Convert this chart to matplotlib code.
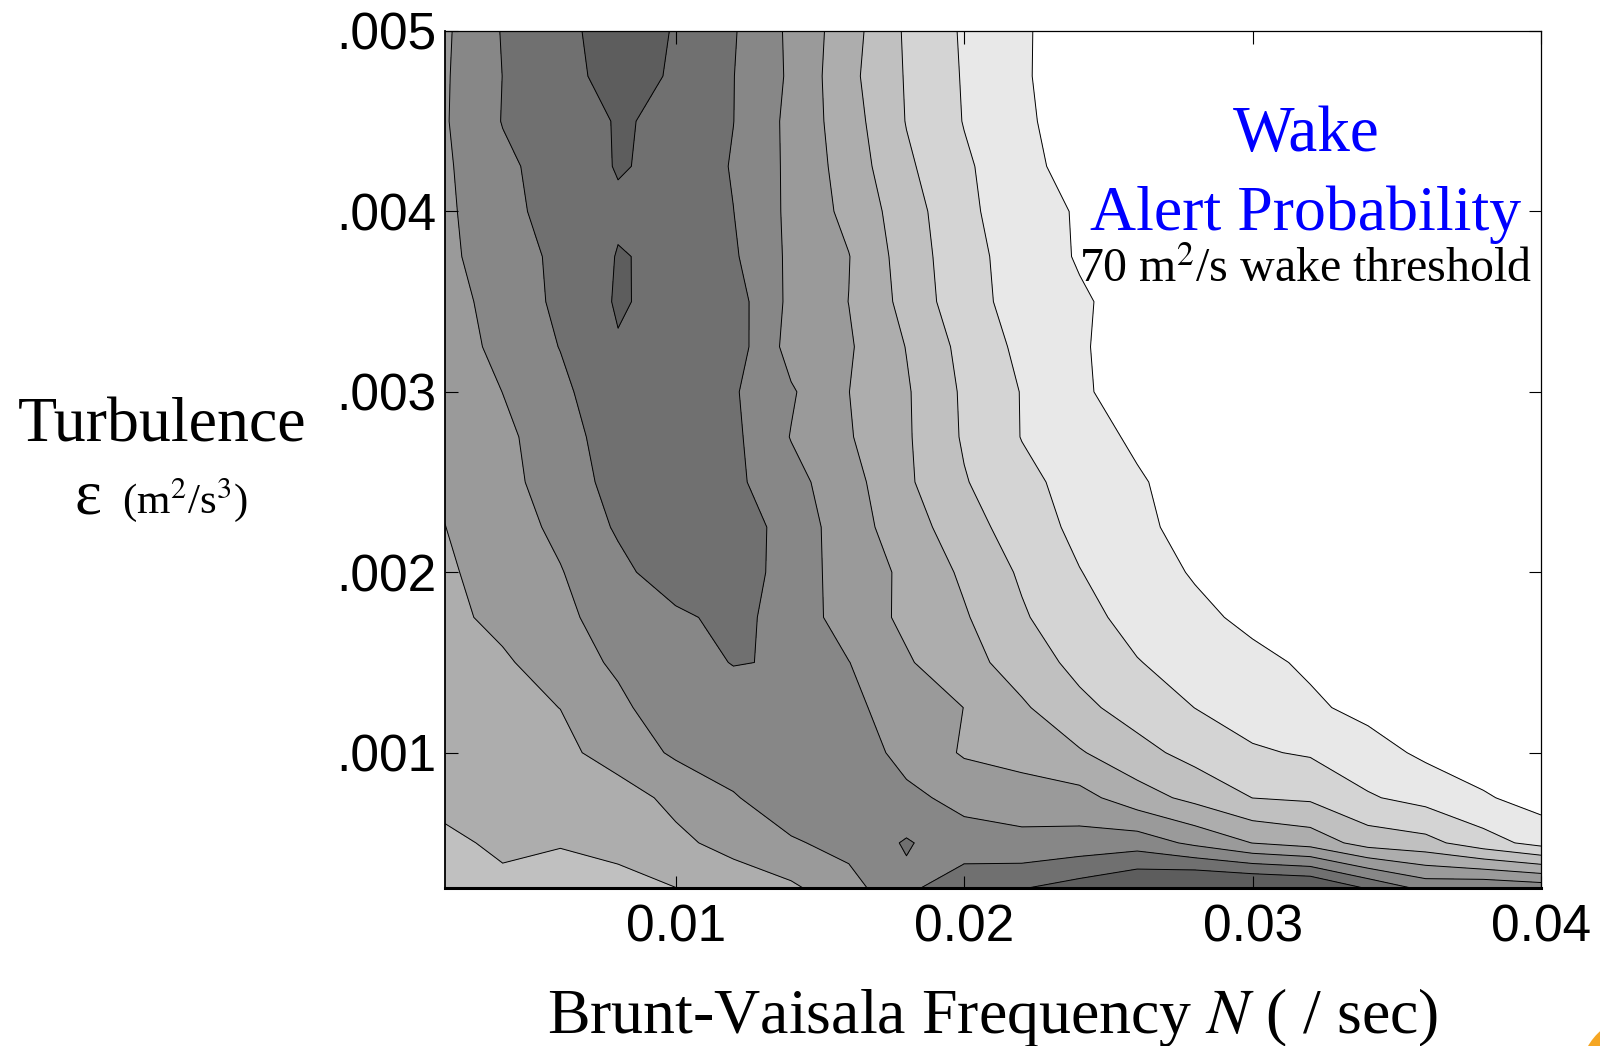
import matplotlib

matplotlib.use("Agg")
import matplotlib.pyplot as plt
import numpy as np
from matplotlib.patches import Circle
from matplotlib.transforms import IdentityTransform

plt.rcParams["font.family"] = ["Liberation Serif", "DejaVu Serif"]
plt.rcParams["mathtext.fontset"] = "stix"

# Brunt-Vaisala frequency N (/sec), grid columns
N_FREQ = [0.002, 0.004, 0.006, 0.008, 0.010, 0.012, 0.014, 0.016, 0.018, 0.020,
          0.022, 0.024, 0.026, 0.028, 0.030, 0.032, 0.034, 0.036, 0.038, 0.040]
# turbulence epsilon (m^2/s^3), grid rows, bottom to top
EPSILON = [0.00025, 0.0005, 0.00075, 0.001, 0.00125, 0.0015, 0.00175, 0.002,
           0.00225, 0.0025, 0.00275, 0.003, 0.00325, 0.0035, 0.00375, 0.004,
           0.00425, 0.0045, 0.00475, 0.005]

# alert probability, in contour-band units (one unit per shade), row per EPSILON
ALERT = [
    [3.70, 3.84, 3.27, 3.55, 3.99, 4.41, 4.83, 5.65, 6.75, 7.75, 7.95, 8.43, 9.05, 9.48, 9.40, 9.20, 7.90, 6.70, 6.85, 6.60],
    [3.85, 4.13, 4.10, 4.40, 4.78, 5.33, 5.89, 6.30, 7.10, 6.35, 6.22, 6.39, 6.55, 5.78, 4.98, 4.60, 3.57, 3.32, 2.42, 1.65],
    [4.20, 4.30, 4.40, 4.58, 5.25, 5.92, 6.59, 6.40, 6.20, 5.75, 5.60, 5.35, 4.43, 3.73, 2.99, 2.85, 2.10, 1.67, 1.11, 0.60],
    [4.30, 4.50, 4.75, 5.41, 6.15, 6.50, 6.50, 6.52, 5.71, 4.89, 4.52, 4.09, 3.33, 2.66, 2.11, 1.90, 1.40, 0.81, 0.45, 0.20],
    [4.40, 4.72, 5.01, 5.80, 6.57, 6.54, 6.50, 6.20, 5.60, 4.99, 4.14, 3.25, 2.58, 1.99, 1.58, 1.16, 0.73, 0.35, 0.10, 0.00],
    [4.50, 4.85, 5.55, 6.15, 6.59, 7.04, 6.93, 6.02, 5.10, 4.37, 3.54, 2.71, 2.04, 1.63, 1.25, 0.85, 0.40, 0.10, 0.00, 0.00],
    [4.72, 5.28, 5.83, 6.33, 6.81, 7.29, 6.59, 5.54, 4.81, 4.10, 3.12, 2.29, 1.70, 1.24, 0.77, 0.30, 0.00, 0.00, 0.00, 0.00],
    [4.86, 5.41, 5.95, 6.74, 7.55, 7.70, 6.45, 5.62, 4.79, 3.83, 2.86, 2.03, 1.46, 0.91, 0.35, 0.00, 0.00, 0.00, 0.00, 0.00],
    [4.99, 5.56, 6.21, 7.12, 7.30, 7.55, 6.60, 5.45, 4.46, 3.44, 2.49, 1.77, 1.22, 0.67, 0.20, 0.00, 0.00, 0.00, 0.00, 0.00],
    [5.12, 5.68, 6.50, 7.33, 7.40, 7.21, 6.33, 5.37, 4.16, 3.07, 2.26, 1.64, 1.11, 0.56, 0.10, 0.00, 0.00, 0.00, 0.00, 0.00],
    [5.15, 5.77, 6.59, 7.50, 7.50, 7.21, 5.96, 5.08, 4.12, 2.89, 1.97, 1.43, 0.83, 0.20, 0.00, 0.00, 0.00, 0.00, 0.00, 0.00],
    [5.23, 6.01, 6.77, 7.75, 7.60, 7.10, 6.11, 5.01, 4.10, 2.85, 1.96, 1.19, 0.43, 0.00, 0.00, 0.00, 0.00, 0.00, 0.00, 0.00],
    [5.50, 6.27, 7.03, 7.93, 7.70, 7.51, 5.62, 5.11, 3.97, 2.70, 1.77, 1.12, 0.49, 0.00, 0.00, 0.00, 0.00, 0.00, 0.00, 0.00],
    [5.59, 6.41, 7.20, 8.10, 7.67, 7.46, 5.76, 4.99, 3.69, 2.37, 1.64, 1.13, 0.61, 0.10, 0.00, 0.00, 0.00, 0.00, 0.00, 0.00],
    [5.77, 6.56, 7.20, 8.05, 7.83, 7.13, 5.80, 5.03, 3.55, 2.35, 1.56, 0.91, 0.30, 0.00, 0.00, 0.00, 0.00, 0.00, 0.00, 0.00],
    [5.82, 6.66, 7.45, 7.86, 7.50, 7.01, 5.78, 4.73, 3.47, 2.20, 1.50, 0.89, 0.30, 0.00, 0.00, 0.00, 0.00, 0.00, 0.00, 0.00],
    [5.86, 6.79, 7.46, 8.06, 7.80, 6.92, 5.79, 4.56, 3.17, 2.15, 1.34, 0.55, 0.00, 0.00, 0.00, 0.00, 0.00, 0.00, 0.00, 0.00],
    [5.92, 7.04, 7.30, 8.10, 7.78, 7.01, 5.75, 4.43, 2.96, 1.96, 1.21, 0.43, 0.00, 0.00, 0.00, 0.00, 0.00, 0.00, 0.00, 0.00],
    [5.90, 7.01, 7.68, 8.35, 7.90, 7.02, 5.85, 4.27, 2.92, 1.92, 1.14, 0.36, 0.00, 0.00, 0.00, 0.00, 0.00, 0.00, 0.00, 0.00],
    [5.85, 7.06, 7.76, 8.40, 7.95, 7.08, 5.81, 4.41, 2.86, 1.88, 1.15, 0.36, 0.00, 0.00, 0.00, 0.00, 0.00, 0.00, 0.00, 0.00],
]

LEVELS = [1, 2, 3, 4, 5, 6, 7, 8]
BAND_COLORS = ["#ffffff", "#e8e8e8", "#d4d4d4", "#c0c0c0", "#adadad",
               "#9a9a9a", "#878787", "#707070", "#5d5d5d"]

X_TICKS = [0.01, 0.02, 0.03, 0.04]
X_TICKLABELS = ["0.01", "0.02", "0.03", "0.04"]
Y_TICKS = [0.001, 0.002, 0.003, 0.004, 0.005]
Y_TICKLABELS = [".001", ".002", ".003", ".004", ".005"]

W, H = 1600, 1046


def fx(px):
    return px / W


def fy(py):
    return 1 - py / H


fig = plt.figure(figsize=(W / 100, H / 100), dpi=100)
ax = fig.add_axes([fx(445), fy(888), fx(1541) - fx(445), fy(31) - fy(888)])

z = np.array(ALERT)
ax.contourf(N_FREQ, EPSILON, z, levels=[-1] + LEVELS + [10], colors=BAND_COLORS)
ax.contour(N_FREQ, EPSILON, z, levels=LEVELS, colors="k", linewidths=0.7)

ax.set_xlim(N_FREQ[0], N_FREQ[-1])
ax.set_ylim(EPSILON[0], EPSILON[-1])
ax.set_xticks(X_TICKS)
ax.set_xticklabels(X_TICKLABELS)
ax.set_yticks(Y_TICKS)
ax.set_yticklabels(Y_TICKLABELS)
ax.tick_params(direction="in", length=9, width=0.8, top=True, right=True,
               labelsize=37, pad=6)
ax.tick_params(axis="x", pad=11)
for lbl in ax.get_xticklabels() + ax.get_yticklabels():
    lbl.set_fontfamily(["Liberation Sans", "DejaVu Sans"])

ax.spines["bottom"].set_linewidth(2.2)
ax.spines["left"].set_linewidth(1.3)
ax.spines["top"].set_linewidth(0.9)
ax.spines["right"].set_linewidth(0.9)

fig.text(fx(993), fy(1033), r"Brunt-Vaisala Frequency $N$ ( / sec)",
         ha="center", va="baseline", fontsize=46)
fig.text(fx(162), fy(441), "Turbulence", ha="center", va="baseline", fontsize=46)
fig.text(fx(88), fy(513), "\u03b5", ha="center", va="baseline", fontsize=46)
fig.text(fx(185), fy(513), r"(m$^2$/s$^3$)", ha="center", va="baseline", fontsize=31)

fig.text(fx(1306), fy(151), "Wake", ha="center", va="baseline", fontsize=47, color="#0000ff")
fig.text(fx(1306), fy(230), "Alert Probability", ha="center", va="baseline", fontsize=46, color="#0000ff")
fig.text(fx(1306), fy(282), r"70 m$^2$/s wake threshold", ha="center", va="baseline", fontsize=34.5)

# slide decoration peeking in at the corner
fig.patches.append(Circle((1640, -30), 60, transform=IdentityTransform(),
                          facecolor="#f5a623", edgecolor="none"))

fig.savefig("out.png", dpi=100)
